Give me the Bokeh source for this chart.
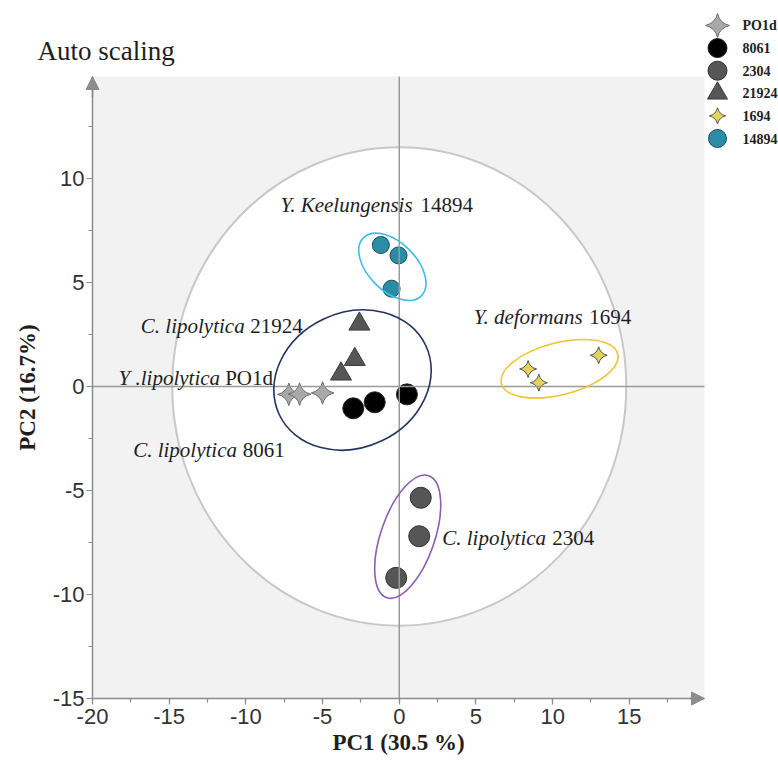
from bokeh.plotting import figure
from bokeh.models import (Range1d, SingleIntervalTicker, LinearAxis, Arrow, NormalHead,
                          Label, BoxAnnotation, CustomJSTickFormatter)
from bokeh.core.properties import value
from bokeh.embed import file_html
from bokeh.resources import INLINE

# PCA scores (PC1, PC2) for each strain, auto-scaled data
po1d_pc1 = [-7.2, -6.5, -5.0]
po1d_pc2 = [-0.38, -0.37, -0.31]
s8061_pc1 = [-3.0, -1.6, 0.5]
s8061_pc2 = [-1.05, -0.76, -0.38]
s2304_pc1 = [1.4, 1.3, -0.2]
s2304_pc2 = [-5.35, -7.2, -9.2]
s21924_pc1 = [-2.6, -2.9, -3.8]
s21924_pc2 = [3.0, 1.3, 0.6]
s1694_pc1 = [8.4, 9.1, 13.0]
s1694_pc2 = [0.84, 0.18, 1.5]
s14894_pc1 = [-1.2, -0.05, -0.5]
s14894_pc2 = [6.8, 6.3, 4.7]

# Hotelling T2 ellipse (95 %)
t2_width = 29.6
t2_height = 23.0

# group ellipses: centre (data), axes (px), rotation (rad)
grp_x = [-0.45, -3.05, 10.45, 0.55]
grp_y = [5.75, 0.31, 0.85, -7.22]
grp_w = [82, 162, 120, 129]
grp_h = [48, 135, 52, 54]
grp_angle = [-0.785, 0.44, 0.25, 1.24]
grp_color = ["#3fbde6", "#22335f", "#f0c430", "#8e5bb5"]

# group captions
cap_species = ["Y. Keelungensis", "C. lipolytica", "Y .lipolytica",
               "C. lipolytica", "Y. deformans", "C. lipolytica"]
cap_strain = ["14894", "21924", "PO1d", "8061", "1694", "2304"]
cap_x = [-7.75, -16.85, -18.3, -17.35, 4.85, 2.8]
cap_strain_x = [1.39, -9.72, -11.35, -10.2, 12.39, 9.98]
cap_y = [8.73, 2.91, 0.39, -3.05, 3.34, -7.30]

# key entries
key_labels = ["PO1d", "8061", "2304", "21924", "1694", "14894"]

# plotting box: data limits and where they sit on the 778 x 763 canvas
W, H = 778, 763
X_LO, X_HI = -20, 19.9
Y_LO, Y_HI = -15, 14.9
BOX_L, BOX_R, BOX_T, BOX_B = 92, 704, 76, 698
kx = (BOX_R - BOX_L) / (X_HI - X_LO)
ky = (BOX_B - BOX_T) / (Y_HI - Y_LO)


def px_x(px):
    return X_LO + (px - BOX_L) / kx


def px_y(py):
    return Y_LO + (BOX_B - py) / ky


AXIS_GRAY = "#8c8c8c"
TEXT = "#1e1e1e"

p = figure(width=W, height=H,
           x_range=Range1d(px_x(0), px_x(W)), y_range=Range1d(px_y(H), px_y(0)),
           output_backend="svg", toolbar_location=None,
           x_axis_location=None, y_axis_location=None,
           background_fill_color="white", border_fill_color="white",
           min_border=0, min_border_left=0, min_border_right=0,
           min_border_top=0, min_border_bottom=0)
p.grid.visible = False
p.outline_line_color = None

# grey plotting area
p.add_layout(BoxAnnotation(left=X_LO, right=X_HI, bottom=Y_LO, top=Y_HI,
                           fill_color="#f2f2f2", fill_alpha=1, line_alpha=0,
                           level="underlay"))

xaxis = LinearAxis(fixed_location=Y_LO, bounds=(X_LO, X_HI), axis_label="PC1 (30.5 %)")
yaxis = LinearAxis(fixed_location=X_LO, bounds=(Y_LO, Y_HI), axis_label="PC2 (16.7%)")
for ax in (xaxis, yaxis):
    ax.ticker = SingleIntervalTicker(interval=5, num_minor_ticks=2)
    ax.formatter = CustomJSTickFormatter(code="return tick.toString();")
    ax.axis_line_color = AXIS_GRAY
    ax.axis_line_width = 1.5
    ax.major_tick_line_color = AXIS_GRAY
    ax.major_tick_line_width = 1.2
    ax.minor_tick_line_color = AXIS_GRAY
    ax.minor_tick_line_width = 1.2
    ax.major_tick_in = 0
    ax.major_tick_out = 6
    ax.minor_tick_in = 0
    ax.minor_tick_out = 4
    ax.major_label_text_font = "Liberation Sans"
    ax.major_label_text_font_size = "22px"
    ax.major_label_text_color = "#333333"
    ax.axis_label_text_font = "Liberation Serif"
    ax.axis_label_text_font_style = "bold"
    ax.axis_label_text_font_size = "23px"
    ax.axis_label_text_color = TEXT
xaxis.major_label_standoff = 4
xaxis.axis_label_standoff = 3
yaxis.major_label_standoff = 2
yaxis.axis_label_standoff = 10
p.add_layout(xaxis, "below")
p.add_layout(yaxis, "left")

# axis arrow heads
p.add_layout(Arrow(x_start=X_HI - 1, y_start=Y_LO, x_end=X_HI, y_end=Y_LO,
                   line_color=AXIS_GRAY, line_width=1.5,
                   end=NormalHead(size=13, fill_color=AXIS_GRAY, line_color=AXIS_GRAY)))
p.add_layout(Arrow(x_start=X_LO, y_start=Y_HI - 1, x_end=X_LO, y_end=Y_HI,
                   line_color=AXIS_GRAY, line_width=1.5,
                   end=NormalHead(size=13, fill_color=AXIS_GRAY, line_color=AXIS_GRAY)))

# title
p.add_layout(Label(x=px_x(37), y=px_y(50), text="Auto scaling",
                   text_font="Liberation Serif", text_font_size="27px",
                   text_color=TEXT, text_baseline="alphabetic"))

# T2 ellipse
p.ellipse(x=0, y=0, width=t2_width, height=t2_height,
          fill_color="white", line_color="#c8c8c8", line_width=2)

# marker styles per strain
styles = {
    "PO1d": dict(marker="square_pin", angle=0.785, fill_color="#a9a9a9", line_color="#6e6e6e"),
    "8061": dict(marker="circle", fill_color="#000000", line_color="#222222"),
    "2304": dict(marker="circle", fill_color="#565656", line_color="#303030"),
    "21924": dict(marker="triangle", fill_color="#565656", line_color="#3c3c3c"),
    "1694": dict(marker="square_pin", angle=0.785, fill_color="#e3d35a", line_color="#555555"),
    "14894": dict(marker="circle", fill_color="#2b8ca6", line_color="#1c4d5c"),
}
point_size = {"PO1d": 16, "8061": 21, "2304": 21, "21924": 21, "1694": 12, "14894": 17}
key_size = {"PO1d": 17, "8061": 19, "2304": 19, "21924": 20, "1694": 11.5, "14894": 18}

scores = {"PO1d": (po1d_pc1, po1d_pc2), "8061": (s8061_pc1, s8061_pc2),
          "2304": (s2304_pc1, s2304_pc2), "21924": (s21924_pc1, s21924_pc2),
          "1694": (s1694_pc1, s1694_pc2), "14894": (s14894_pc1, s14894_pc2)}

for name, (pc1, pc2) in scores.items():
    p.scatter(pc1, pc2, size=point_size[name], line_width=1, **styles[name])

# zero lines
p.segment(x0=[0, X_LO], y0=[Y_LO, 0], x1=[0, X_HI], y1=[Y_HI, 0],
          line_color="#9a9a9a", line_width=1.5)

# group ellipses
p.ellipse(x=grp_x, y=grp_y, width=grp_w, height=grp_h, angle=grp_angle,
          width_units="screen", height_units="screen",
          fill_alpha=0, line_color=grp_color, line_width=1.6)

# captions: italic species + upright strain number
p.text(x=cap_x, y=cap_y, text=cap_species, text_font=value("Liberation Serif"),
       text_font_style="italic", text_font_size="21px", text_color=TEXT,
       text_baseline="alphabetic", text_align="left")
p.text(x=cap_strain_x, y=cap_y, text=cap_strain, text_font=value("Liberation Serif"),
       text_font_style="normal", text_font_size="21px", text_color=TEXT,
       text_baseline="alphabetic", text_align="left")

# key at the top right
KEY_X, KEY_TEXT_X, KEY_TOP, KEY_STEP = 717, 742, 25, 22.6
for i, name in enumerate(key_labels):
    ky_row = px_y(KEY_TOP + i * KEY_STEP)
    p.scatter([px_x(KEY_X)], [ky_row], size=key_size[name], line_width=1, **styles[name])
    p.text(x=[px_x(KEY_TEXT_X)], y=[ky_row], text=[name],
           text_font=value("Liberation Serif"), text_font_style="bold",
           text_font_size="14px", text_color="#222222",
           text_baseline="middle", text_align="left")

open("out.html", "w").write(file_html(p, INLINE))
